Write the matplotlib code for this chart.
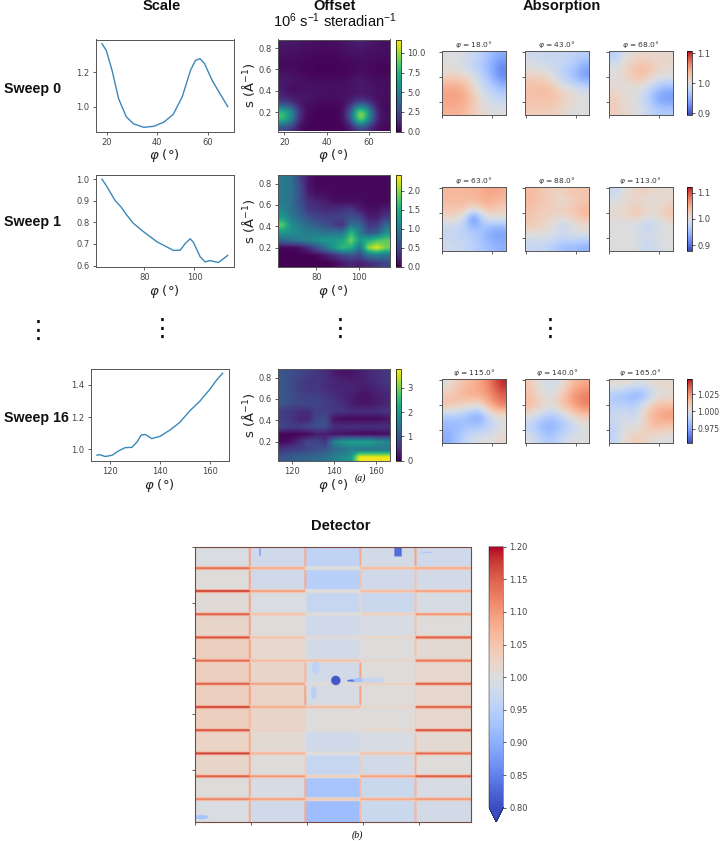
import numpy as np
import matplotlib
matplotlib.use('Agg')
import matplotlib.pyplot as plt

W = 720
H = 841

# scale curves
phi0 = [18, 19.7, 22, 24.6, 27.7, 30.6, 34.6, 38.6, 42.6, 46.3, 49.9, 53.2, 55.2, 57, 58.8, 61.8, 64.5, 68]
scale0 = [1.364, 1.325, 1.21, 1.046, 0.94, 0.90, 0.88, 0.886, 0.91, 0.954, 1.056, 1.21, 1.268, 1.277, 1.248, 1.152, 1.085, 1.0]
phi1 = [63, 65, 68.3, 70.5, 72.9, 75.6, 79.6, 85, 88.3, 91.6, 94.3, 96.3, 98.3, 99.6, 102.3, 104.3, 106.3, 109.6, 111.6, 113.3]
scale1 = [1.0, .965, .90, .873, .834, .795, .757, .71, .69, .67, .671, .702, .724, .707, .64, .617, .623, .614, .632, .647]
phi2 = [115, 116, 118.3, 121, 123.6, 126.2, 128.9, 130.9, 132.6, 134.2, 136.8, 140, 144.1, 148, 152, 155.9, 160, 162.6, 165]
scale2 = [.963, .967, .955, .963, .99, 1.01, 1.012, 1.045, 1.088, 1.092, 1.066, 1.08, 1.12, 1.168, 1.24, 1.298, 1.374, 1.43, 1.472]

# offset maps, s from 0.85 down to 0.06
offset0 = [
    [.8, .8, .6, .5, .4, .4, .5, .6, .8, 1.0, .8, .6, .5],
    [.6, .6, .5, .4, .3, .3, .3, .5, .6, .7, .5, .5, .4],
    [.4, .4, .3, .2, .2, .2, .2, .3, .4, .5, .4, .3, .3],
    [.3, .3, .2, .2, .1, .1, .1, .2, .2, .3, .3, .2, .2],
    [.6, .5, .3, .2, .1, .1, .1, .1, .2, .5, .3, .2, .2],
    [.8, .8, .6, .5, .4, .4, .4, .5, .6, .9, .6, .5, .4],
    [.9, .2, .3, .6, .5, .5, .5, .5, .6, .8, .7, .5, .5],
    [1.2, .8, .8, .7, .6, .5, .5, .5, .6, .8, .6, .5, .4],
    [2.5, 2, .6, .5, .3, .2, .2, .3, 1.2, 3.5, 2.2, .5, .3],
    [8.5, 6.5, 1.5, .2, .1, .1, .1, .2, 3.5, 11.7, 7, .8, .3],
    [8.5, 6, 1, .2, .1, .1, .1, .2, 3, 11.7, 6, .8, .5],
    [2.5, 2, .3, .1, .1, .1, .1, .1, .5, 2.5, 1.5, .3, .2],
]
offset1 = [
    [1.0, .9, .5, .15, .05, .05, .05, .05, .05, .05, .05, .05, .05],
    [1.0, .9, .6, .15, .05, .05, .05, .05, .05, .05, .05, .05, .05],
    [1.0, .9, .6, .2, .1, .1, .05, .05, .05, .05, .05, .05, .05],
    [1.0, .9, .6, .35, .25, .2, .1, .1, .1, .1, .05, .05, .05],
    [1.1, .9, .7, .4, .35, .3, .3, .35, .4, .2, .1, .1, .2],
    [1.3, 1.0, .8, .6, .5, .45, .45, .5, .6, .5, .2, .2, .4],
    [1.8, 1.2, 1.0, .8, .7, .6, .45, .35, .9, .8, .4, .4, .8],
    [1.3, 1.2, 1.1, 1.0, 1.0, .9, .9, .9, 1.6, 1.0, .6, .7, 1.2],
    [.8, .9, 1.0, 1.1, 1.2, 1.3, 1.3, 1.4, 1.9, 1.3, 1.5, 1.7, 1.8],
    [.05, .05, .1, .3, .6, .9, 1.3, 1.6, 1.5, .9, 2.0, 2.3, 1.9],
    [0, 0, 0, 0, .05, .15, .3, .5, .6, .5, .9, 1.0, .9],
    [0, 0, 0, 0, 0, 0, .05, .15, .25, .2, .3, .4, .5],
]
offset2 = [
    [1.0, .9, .8, .7, .6, .5, .3, .2, .2, .3, .4, .5, .6],
    [1.0, .9, .7, .6, .6, .5, .4, .35, .3, .3, .4, .5, .6],
    [1.0, .9, .7, .6, .6, .5, .4, .4, .4, .3, .3, .4, .5],
    [1.0, .9, .8, .7, .7, .6, .5, .4, .3, .2, .2, .3, .4],
    [1.0, .9, .8, .8, .8, .7, .6, .5, .3, .2, .2, .3, .4],
    [.7, .6, .5, .5, .7, .7, .6, .6, .5, .5, .5, .5, .6],
    [.7, .6, .4, .4, .8, .9, .2, .1, .1, .1, .1, .1, .2],
    [.8, .7, .7, .8, .9, .9, .5, .5, .5, .5, .5, .5, .5],
    [.05, .05, .05, .1, .3, .3, .2, .2, .15, .1, .1, .1, .15],
    [.1, .2, .5, .8, .8, .6, 1.6, 2.0, 2.1, 2.1, 2.2, 1.9, 1.8],
    [.6, .7, .7, .8, .9, 1.0, 1.3, 1.4, 1.6, 1.5, 1.5, 1.5, 1.5],
    [1.0, 1.1, 1.2, 1.2, 1.3, 1.4, 1.6, 1.8, 2.0, 3.7, 3.7, 3.7, 3.7],
]

# absorption maps
abs_18 = [[1.00, 1.00, .99, .98, .96, .945], [1.00, 1.00, .985, .97, .95, .92], [1.02, 1.02, 1.01, .99, .96, .925],
          [1.045, 1.05, 1.03, .99, .98, .96], [1.05, 1.05, 1.04, 1.01, .99, .98], [1.04, 1.04, 1.03, 1.01, 1.0, 1.0]]
abs_43 = [[.99, .985, .985, .985, .98, .975], [1.0, .995, .99, .98, .97, .94], [1.02, 1.02, 1.005, .975, .96, .935],
          [1.03, 1.035, 1.03, 1.01, 1.0, .99], [1.03, 1.03, 1.03, 1.02, 1.01, 1.0], [1.02, 1.02, 1.02, 1.01, 1.0, 1.0]]
abs_68 = [[.97, 1.0, 1.01, 1.01, 1.01, 1.01], [1.0, 1.01, 1.03, 1.035, 1.015, 1.01], [1.0, 1.01, 1.03, 1.025, 1.0, 1.0],
          [1.01, 1.0, 1.0, .99, .96, .95], [1.02, 1.01, 1.0, .98, .94, .93], [1.02, 1.01, 1.0, .99, .97, .97]]
abs_63 = [[1.04, 1.04, 1.04, 1.045, 1.05, 1.055, 1.05], [1.04, 1.04, 1.04, 1.04, 1.05, 1.05, 1.04], [1.03, 1.03, 1.03, 1.0, 1.03, 1.03, 1.02],
          [1.01, 1.01, .98, .89, .98, 1.0, 1.0], [.98, .98, .97, .95, .96, .94, .94], [.98, .98, .975, .97, .95, .93, .93], [.99, .985, .98, .97, .96, .95, .94]]
abs_88 = [[1.04, 1.03, 1.02, 1.02, 1.03, 1.03], [1.04, 1.03, 1.02, 1.0, 1.02, 1.03], [1.03, 1.02, 1.02, 1.03, 1.03, 1.05],
          [1.03, 1.02, 1.01, .97, 1.0, 1.01], [1.0, 1.0, 1.0, .99, 1.0, 1.0], [.98, .98, .97, .95, .95, .94]]
abs_113 = [[.98, 1.0, 1.02, 1.02, 1.01, 1.01], [1.0, 1.01, 1.01, 1.0, 1.0, 1.01], [1.01, 1.01, 1.04, 1.02, 1.01, 1.04],
           [1.0, 1.0, .99, .97, .985, 1.0], [1.0, 1.0, 1.0, .99, 1.0, 1.0], [1.0, 1.0, 1.0, .98, .99, 1.0]]
abs_115 = [[1.0, 1.01, 1.015, 1.02, 1.03, 1.045], [1.01, 1.015, 1.02, 1.02, 1.025, 1.035], [1.015, 1.01, 1.005, 1.0, 1.02, 1.03],
           [.985, .985, .98, .97, .995, 1.0], [.98, .98, .985, .985, .99, 1.0], [.975, .985, .995, 1.0, 1.0, 1.005]]
abs_140 = [[1.01, 1.0, .995, 1.0, 1.015, 1.02], [1.015, 1.0, 1.0, 1.01, 1.025, 1.03], [1.015, 1.01, 1.0, 1.015, 1.02, 1.03],
           [1.0, .99, .985, .99, 1.005, 1.01], [.99, .98, .975, .985, .99, 1.0], [1.0, .99, .985, .995, 1.0, 1.0]]
abs_165 = [[1.005, 1.005, 1.0, 1.0, 1.005, 1.005], [.985, .98, .975, .98, 1.0, 1.0], [.99, .99, .99, 1.005, 1.015, 1.015],
           [.995, 1.0, .99, 1.01, 1.02, 1.025], [.99, 1.0, 1.0, 1.01, 1.015, 1.01], [.99, 1.005, 1.01, 1.005, 1.0, 1.0]]

# detector modules, 12 rows by 5 columns
panel_vals = [
    [.995, .98, .96, .985, .98],
    [1.0, .98, .95, .98, .985],
    [1.005, .995, .97, .975, .99],
    [1.02, 1.0, .98, .99, 1.0],
    [1.03, 1.015, .985, 1.0, 1.01],
    [1.03, 1.02, .985, 1.0, 1.015],
    [1.03, 1.025, .99, 1.0, 1.015],
    [1.03, 1.02, 1.0, 1.0, 1.015],
    [1.025, 1.01, .98, .99, 1.01],
    [1.02, 1.0, .97, .985, 1.0],
    [1.0, .99, .93, .975, .99],
    [.995, .98, .92, .975, .985],
]
# gaps between module rows
hgap_vals = [
    [1.14, 1.08, 1.0, 1.06, 1.08],
    [1.17, 1.09, 1.0, 1.06, 1.09],
    [1.15, 1.05, 1.0, 1.03, 1.10],
    [1.16, 1.05, 1.0, 1.02, 1.15],
    [1.14, 1.06, 1.05, 1.02, 1.13],
    [1.15, 1.09, 1.0, 1.03, 1.15],
    [1.17, 1.08, 1.06, 1.02, 1.15],
    [1.16, 1.03, 1.0, 1.02, 1.16],
    [1.17, 1.07, 1.0, 1.05, 1.14],
    [1.15, 1.10, 1.03, 1.09, 1.15],
    [1.12, 1.09, 1.04, 1.08, 1.10],
]
# gaps between module columns
vgap_vals = [
    [1.09, 1.08, 1.08, 1.09], [1.09, 1.08, 1.05, 1.05], [1.09, 1.0, 1.01, 1.05], [1.09, 1.0, 1.0, 1.05],
    [1.09, 1.01, 1.0, 1.05], [1.09, 1.07, 1.09, 1.02], [1.09, 1.09, 1.09, 1.02], [1.07, 1.02, 1.0, 1.03],
    [1.08, 1.0, 1.0, 1.05], [1.08, 1.03, 1.03, 1.07], [1.08, 1.08, 1.06, 1.07], [1.08, 1.08, 1.06, 1.07],
]
# small defects on the detector: column, row, half width, half height, value
defects = [
    [1255, 1198, 42, 42, .81],
    [1405, 1200, 50, 10, .84],
    [1460, 1195, 45, 22, .93],
    [1590, 1195, 100, 25, .97],
    [1057, 1310, 25, 60, .95],
    [1075, 1085, 35, 60, .96],
    [578, 53, 8, 40, .88],
    [2069, 56, 50, 6, .93],
    [57, 2418, 60, 20, .93],
]
# dead block: first and last column, first and last row
dead_block = [1780, 1845, 0, 95, .83]


def place(x0, y0, x1, y1):
    return fig.add_axes([x0 / W, 1 - y1 / H, (x1 - x0) / W, (y1 - y0) / H])


def style(ax):
    for sp in ax.spines.values():
        sp.set_linewidth(0.7)
        sp.set_color('#555555')
    ax.tick_params(length=2.5, width=0.6, labelsize=6, colors='#444444', pad=2)


fig = plt.figure(figsize=(W / 100, H / 100), dpi=100)
plt.rcParams['mathtext.default'] = 'regular'
head = ['Liberation Sans', 'DejaVu Sans']
phi_label = r'$\mathit{\varphi}$ (°)'

rows_y = [(39.5, 131.5), (175, 266.7), (369, 460.7)]
scale_left = [(95.7, 234), (95.7, 234), (90.7, 229)]
scale_x = [phi0, phi1, phi2]
scale_y = [scale0, scale1, scale2]
offsets = [offset0, offset1, offset2]
offset_lim = [(17, 69.8), (62, 114.6), (113.5, 166.6)]
offset_max = [11.7, 2.41, 3.77]
offset_ticks = [[0, 2.5, 5, 7.5, 10], [0, .5, 1, 1.5, 2], [0, 1, 2, 3]]
offset_fmt = ['%.1f', '%.1f', '%d']
offset_interp = ['bicubic', 'bilinear', 'bilinear']
scale_ticks = [[1.0, 1.2], [.6, .7, .8, .9, 1.0], [1.0, 1.2, 1.4]]
phi_ticks = [[20, 40, 60], [80, 100], [120, 140, 160]]
row_names = ['Sweep 0', 'Sweep 1', 'Sweep 16']
name_y = [89, 222, 418]

for i in range(3):
    y0, y1 = rows_y[i]
    ax = place(scale_left[i][0], y0, scale_left[i][1], y1)
    ax.plot(scale_x[i], scale_y[i], color='#3b87b8', lw=1.0)
    ax.set_yticks(scale_ticks[i])
    ax.set_xticks(phi_ticks[i])
    ax.set_yticklabels(['%.1f' % v for v in scale_ticks[i]])
    ax.set_xlabel(phi_label, fontsize=9.5, labelpad=0.5, color='#222222')
    style(ax)

    ax = place(278, y0, 389.7, y1)
    xl = offset_lim[i]
    im = ax.imshow(offsets[i], cmap='viridis', vmin=0, vmax=offset_max[i], aspect='auto',
                   interpolation=offset_interp[i], extent=[xl[0], xl[1], 0.02, 0.88])
    ax.set_xticks(phi_ticks[i])
    ax.set_yticks([.2, .4, .6, .8])
    ax.set_xlabel(phi_label, fontsize=9.5, labelpad=0.5, color='#222222')
    ax.set_ylabel('s (Å$^{-1}$)', fontsize=9.5, labelpad=1, color='#222222')
    style(ax)
    cax = place(395.5, y0, 401, y1)
    cb = fig.colorbar(im, cax=cax, ticks=offset_ticks[i], format=offset_fmt[i])
    cb.outline.set_linewidth(0.5)
    cb.ax.tick_params(length=2.5, width=0.6, labelsize=6, colors='#444444', pad=2)

    fig.text(3.5 / W, 1 - name_y[i] / H, row_names[i], fontsize=10.3, fontweight='bold', family=head, va='center', color='#111111')

abs_y = [(51, 115), (186.7, 251), (379, 443)]
abs_maps = [[abs_18, abs_43, abs_68], [abs_63, abs_88, abs_113], [abs_115, abs_140, abs_165]]
abs_names = [['18.0', '43.0', '68.0'], ['63.0', '88.0', '113.0'], ['115.0', '140.0', '165.0']]
abs_lim = [(0.895, 1.107), (0.878, 1.123), (0.954, 1.047)]
abs_ticks = [[.9, 1.0, 1.1], [.9, 1.0, 1.1], [.975, 1.0, 1.025]]
abs_fmt = ['%.1f', '%.1f', '%.3f']
abs_size = [6, 6, 5.6]
abs_x = [(441.8, 505.8), (525.2, 589.2), (608.8, 672.6)]

for i in range(3):
    y0, y1 = abs_y[i]
    for j in range(3):
        ax = place(abs_x[j][0], y0, abs_x[j][1], y1)
        im = ax.imshow(abs_maps[i][j], cmap='coolwarm', vmin=abs_lim[i][0], vmax=abs_lim[i][1],
                       interpolation='bicubic', aspect='auto', extent=[-1, 127, 126, -2])
        ax.set_xticks([0, 100])
        ax.set_yticks([0, 50, 100])
        ax.set_xticklabels([])
        ax.set_yticklabels([])
        style(ax)
        ax.set_title(r'$\mathit{\varphi}$ = ' + abs_names[i][j] + '°', fontsize=5.4, pad=3, color='#333333')
    cax = place(687.2, y0, 691.8, y1)
    cb = fig.colorbar(im, cax=cax, ticks=abs_ticks[i], format=abs_fmt[i])
    cb.outline.set_linewidth(0.5)
    cb.ax.tick_params(length=2.5, width=0.6, labelsize=abs_size[i], colors='#444444', pad=1.5)

# put the detector image together from the module values
size = 2463
step = 3
n = size // step
det = np.ones((n, n))
xc = (np.array([0, 490, 985, 1477, 1969, 2463]) / step).astype(int)
yc = (np.array([0, 198, 404, 611, 818, 1025, 1231, 1438, 1644, 1851, 2057, 2260, 2463]) / step).astype(int)
for r in range(12):
    for c in range(5):
        det[yc[r]:yc[r + 1], xc[c]:xc[c + 1]] = panel_vals[r][c]
for r in range(12):
    for c in range(4):
        v = vgap_vals[r][c]
        det[yc[r]:yc[r + 1], xc[c + 1] - 3:xc[c + 1] + 3] = v
for r in range(11):
    for c in range(5):
        v = hgap_vals[r][c]
        det[yc[r + 1] - 6:yc[r + 1] + 6, xc[c]:xc[c + 1]] = 1 + (v - 1) * 0.4
        det[yc[r + 1] - 3:yc[r + 1] + 3, xc[c]:xc[c + 1]] = v
yy, xx = np.ogrid[:n, :n]
for d in defects:
    a, b, hw, hh, v = d
    mask = ((xx * step - a) / hw) ** 2 + ((yy * step - b) / hh) ** 2 <= 1
    det[mask] = v
x0, x1, y0, y1, v = dead_block
det[y0 // step:y1 // step, x0 // step:x1 // step] = v

ax = place(195.3, 546.7, 470.7, 821.7)
im = ax.imshow(det, cmap='coolwarm', vmin=0.8, vmax=1.2, extent=[0, size, size, 0], aspect='auto', interpolation='bilinear')
ax.set_xticks([0, 500, 1000, 1500, 2000])
ax.set_yticks([0, 500, 1000, 1500, 2000])
ax.set_xticklabels([])
ax.set_yticklabels([])
for sp in ax.spines.values():
    sp.set_linewidth(0.8)
    sp.set_color('#7a4a40')
ax.tick_params(length=2.5, width=0.6, color='#444444')
cax = place(489, 546.7, 503.3, 822)
cb = fig.colorbar(im, cax=cax, extend='min', extendfrac=0.055, ticks=np.arange(0.8, 1.21, 0.05), format='%.2f')
cb.outline.set_linewidth(0.3)
cb.ax.tick_params(length=2.5, width=0.6, labelsize=6, colors='#444444', pad=2)

# headers
fig.text(162 / W, 1 - 6 / H, 'Scale', fontsize=10.5, fontweight='bold', family=head, ha='center', va='center', color='#111111')
fig.text(335 / W, 1 - 6 / H, 'Offset', fontsize=10.5, fontweight='bold', family=head, ha='center', va='center', color='#111111')
fig.text(335 / W, 1 - 21 / H, '10$^{6}$ s$^{-1}$ steradian$^{-1}$', fontsize=10.5, family=head, ha='center', va='center', color='#111111')
fig.text(562 / W, 1 - 6 / H, 'Absorption', fontsize=10.5, fontweight='bold', family=head, ha='center', va='center', color='#111111')
fig.text(341 / W, 1 - 526 / H, 'Detector', fontsize=10.5, fontweight='bold', family=head, ha='center', va='center', color='#111111')

dot_x = [38, 162.7, 340, 550]
dot_y = [331, 329, 329, 329]
for x, y in zip(dot_x, dot_y):
    fig.text(x / W, 1 - y / H, '⋮', fontsize=18, ha='center', va='center', color='#111111')

fig.text(360 / W, 1 - 478 / H, '(a)', fontsize=7, family='Liberation Serif', style='italic', ha='center', va='center')
fig.text(357 / W, 1 - 835 / H, '(b)', fontsize=7, family='Liberation Serif', style='italic', ha='center', va='center')

fig.savefig('out.png', dpi=100)
